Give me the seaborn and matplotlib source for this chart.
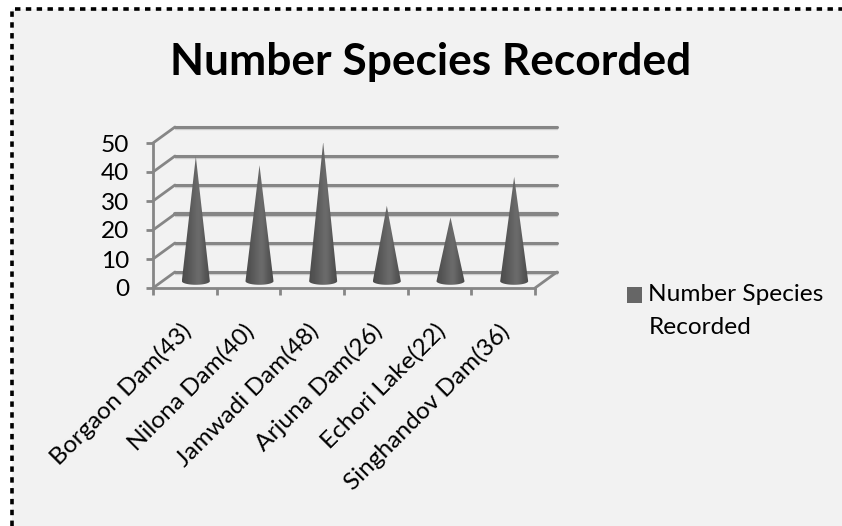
import numpy as np
import pandas as pd
import matplotlib
matplotlib.use("Agg")
import matplotlib.pyplot as plt
import seaborn as sns
from matplotlib.legend_handler import HandlerPatch
from matplotlib.lines import Line2D
from matplotlib.patches import PathPatch, Patch, Rectangle
from matplotlib.path import Path
from matplotlib.transforms import ScaledTranslation

# Data
sites = ["Borgaon Dam(43)", "Nilona Dam(40)", "Jamwadi Dam(48)",
         "Arjuna Dam(26)", "Echori Lake(22)", "Singhandov Dam(36)"]
species = [43, 40, 48, 26, 22, 36]
y_ticks = [0, 10, 20, 30, 40, 50]
title = "Number Species Recorded"
legend_label = "Number Species\nRecorded"

W, H = 842, 526
BG = "#f2f2f2"
GRID = "#868686"

sns.set_theme(style="white")
plt.rcParams["font.family"] = ["Lato", "DejaVu Sans"]

fig = plt.figure(figsize=(W / 100, H / 100), dpi=100, facecolor="white")

# grey panel and dotted border
fig.add_artist(plt.Rectangle((12 / W, 0), 1, 1 - 9 / H, transform=fig.transFigure,
                             facecolor=BG, edgecolor="none", zorder=-5))
fig.add_artist(Line2D([12 / W, 12 / W, 1], [0, 1 - 9 / H, 1 - 9 / H], transform=fig.transFigure,
                      color="black", lw=2.6, ls=(0, (1.5, 1.5)), zorder=-4))

# axes covers the front plane of the fake 3D box
ax = fig.add_axes([153 / W, 1 - 288 / H, (535 - 153) / W, (288 - 143) / H])
ax.patch.set_alpha(0)

df = pd.DataFrame({"site": sites, "species": species})
sns.barplot(data=df, x="site", y="species", width=0.44, ax=ax, color="#666666")

ax.set_xlim(-0.5, 5.5)
ax.set_ylim(0, 50)
ax.set_xlabel("")
ax.set_ylabel("")

# depth of the box in data units
dx = 22 / (382 / 6)
dy = 16 / (145 / 50)

# back wall grid, side diagonals
shadow = ax.transData + ScaledTranslation(0, -1.5 / 100, fig.dpi_scale_trans)
for v in y_ticks:
    ax.plot([-0.5 + dx, 5.5 + dx], [v + dy, v + dy], color="#d0d0d0", lw=1, clip_on=False, zorder=0.9, transform=shadow)
    ax.plot([-0.5 + dx, 5.5 + dx], [v + dy, v + dy], color=GRID, lw=2.2 if v != 20 else 3, clip_on=False, zorder=1)
    ax.plot([-0.5, -0.5 + dx], [v, v + dy], color=GRID, lw=2, clip_on=False, zorder=1)
ax.plot([5.5, 5.5 + dx], [0, dy], color=GRID, lw=2, clip_on=False, zorder=1)

# turn each bar into a shaded cone
shade = np.array([[0.30, 0.32, 0.33, 0.35, 0.37, 0.39, 0.41, 0.42, 0.40, 0.37, 0.34, 0.32, 0.30]])
for bar in list(ax.patches):
    x0, w, h = bar.get_x() + dx / 2, bar.get_width(), bar.get_height()
    bar.set_visible(False)
    cx = x0 + w / 2
    base = dy / 2
    t = np.linspace(np.pi, 2 * np.pi, 30)
    ex = cx + w / 2 * np.cos(t)
    ey = base - 0.4 + 1.25 * np.sin(t)
    verts = [(cx, h + base - 0.4)] + list(zip(ex, ey)) + [(cx, h + base - 0.4)]
    codes = [Path.MOVETO] + [Path.LINETO] * (len(verts) - 2) + [Path.CLOSEPOLY]
    clip = PathPatch(Path(verts, codes), transform=ax.transData, facecolor="none", edgecolor="none")
    ax.add_patch(clip)
    im = ax.imshow(shade, cmap="gray", vmin=0, vmax=1, aspect="auto", zorder=3, interpolation="bilinear",
                   extent=[x0, x0 + w, base - 1.7, h + base])
    im.set_clip_path(clip)

ax.set_xlim(-0.5, 5.5)
ax.set_ylim(0, 50)

# axes, ticks
for side in ["top", "right"]:
    ax.spines[side].set_visible(False)
for side in ["left", "bottom"]:
    ax.spines[side].set_color(GRID)
    ax.spines[side].set_linewidth(2)
ax.set_yticks(y_ticks)
ax.set_xticks(range(len(sites)))
ax.set_xticklabels(sites, rotation=45, ha="right", rotation_mode="anchor")
ax.set_xticks(np.arange(-0.5, 6), minor=True)
ax.tick_params(axis="x", which="major", length=0, pad=23, labelsize=17.6, labelcolor="black")
ax.tick_params(axis="x", which="minor", length=5, width=2, color=GRID, bottom=True)
ax.tick_params(axis="y", length=5, width=2, color=GRID, left=True, pad=12, labelsize=17.6, labelcolor="black")
for lab in ax.get_xticklabels():
    lab.set_transform(lab.get_transform() + ScaledTranslation(-5 / 100, 0, fig.dpi_scale_trans))

fig.text(431 / W, 1 - 62 / H, title, ha="center", va="center", fontsize=31.9, fontweight="bold", color="black")


# legend square sits beside the first line of the label, not the middle
def raised_square(legend, orig_handle, xdescent, ydescent, width, height, fontsize):
    return Rectangle((-xdescent, -ydescent + 11.5), width, height)


handle = Patch(facecolor="#666666", edgecolor="none")
leg = fig.legend([handle], [legend_label], loc="upper left", bbox_to_anchor=(627 / W, 1 - 284 / H),
                 frameon=False, fontsize=17.6, handlelength=0.62, handleheight=0.62, handletextpad=0.25,
                 borderpad=0, borderaxespad=0, labelcolor="black",
                 handler_map={Patch: HandlerPatch(patch_func=raised_square)})
leg.get_texts()[0].set_linespacing(1.73)

fig.savefig("out.png", dpi=100)
